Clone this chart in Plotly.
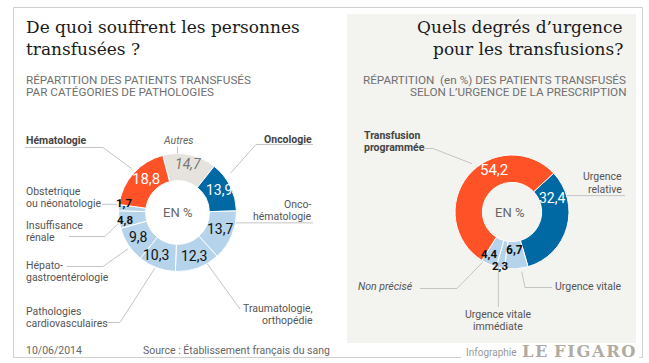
import math
import plotly.graph_objects as go

W, H = 649, 363

# ---------------- data ----------------
patho_labels = ["Autres", "Oncologie", "Onco-hématologie", "Traumatologie, orthopédie",
                "Pathologies cardiovasculaires", "Hépato-gastroentérologie",
                "Insuffisance rénale", "Obstetrique ou néonatologie", "Hématologie"]
patho_values = [14.7, 13.9, 13.7, 12.3, 10.3, 9.8, 4.8, 1.7, 18.8]

urg_labels = ["Urgence relative", "Urgence vitale", "Urgence vitale immédiate",
              "Non précisé", "Transfusion programmée"]
urg_values = [32.4, 6.7, 2.3, 4.4, 54.2]

# ---------------- style ----------------
ORANGE = "#ff5226"
DBLUE = "#0069a4"
LBLUE = "#b5d3ea"
BEIGE = "#e6e3de"
LINE = "#c4c4c4"
SANS = "Roboto, 'Open Sans', sans-serif"
SERIF = "'DejaVu Serif', serif"

patho_colors = [BEIGE, DBLUE, LBLUE, LBLUE, LBLUE, LBLUE, LBLUE, LBLUE, ORANGE]
urg_colors = [DBLUE, LBLUE, LBLUE, LBLUE, ORANGE]

L = dict(cx=177.5, cy=212.5, r=59, hole=0.54, rot=-14.5)
R = dict(cx=512.0, cy=212.0, r=57, hole=0.52, rot=47.0)


def P(x, y):
    return x / W, 1 - y / H


def dom(c):
    x0, y0 = P(c["cx"] - c["r"], c["cy"] + c["r"])
    x1, y1 = P(c["cx"] + c["r"], c["cy"] - c["r"])
    return dict(x=[x0, x1], y=[y0, y1])


def mids(values, rot):
    tot = sum(values)
    out, a = [], rot
    for v in values:
        span = 360 * v / tot
        out.append(a + span / 2)
        a += span
    return out


def polar(c, ang, rf):
    rad = math.radians(ang)
    return c["cx"] + rf * c["r"] * math.sin(rad), c["cy"] - rf * c["r"] * math.cos(rad)


fig = go.Figure()
for vals, labs, cols, c in [(patho_values, patho_labels, patho_colors, L),
                            (urg_values, urg_labels, urg_colors, R)]:
    fig.add_trace(go.Pie(values=vals, labels=labs, sort=False, direction="clockwise",
                         rotation=c["rot"], hole=c["hole"], domain=dom(c),
                         marker=dict(colors=cols, line=dict(color="white", width=1)),
                         textinfo="none", hoverinfo="label+value", showlegend=False))

ann = []
shapes = []


def text(x, y, s, size=11, color="#555", xa="left", fam=SANS, ya="middle"):
    px, py = P(x, y)
    ann.append(dict(x=px, y=py, xref="paper", yref="paper", text=s, showarrow=False,
                    xanchor=xa, yanchor=ya, font=dict(family=fam, size=size, color=color)))


def lines(x, y, rows, gap=12, **kw):
    for i, r_ in enumerate(rows):
        text(x, y + i * gap, r_, **kw)


def seg(pts, color=LINE, width=1):
    for (x0, y0), (x1, y1) in zip(pts[:-1], pts[1:]):
        a0, b0 = P(x0, y0)
        a1, b1 = P(x1, y1)
        shapes.append(dict(type="line", xref="paper", yref="paper", x0=a0, y0=b0, x1=a1, y1=b1,
                           line=dict(color=color, width=width)))


# panels & frame
rx0, ry0 = P(347, 343)
rx1, ry1 = P(636, 14)
shapes.append(dict(type="rect", xref="paper", yref="paper", x0=rx0, y0=ry0, x1=rx1, y1=ry1,
                   fillcolor="#f3f3f0", line=dict(width=0), layer="below"))
FR = "#d0d0d0"
seg([(13.5, 7.5), (642.5, 7.5)], FR)
seg([(13.5, 7.5), (13.5, 357.5)], FR)
seg([(642.5, 7.5), (642.5, 357.5)], FR)
seg([(13.5, 357.5), (461, 357.5)], FR)
seg([(639, 357.5), (642.5, 357.5)], FR)

# titles
TS = 17
text(24, 27, "De quoi souffrent les personnes", TS, "#1a1a1a", fam=SERIF)
text(24, 49, "transfusées ?", TS, "#1a1a1a", fam=SERIF)
text(24, 80, "RÉPARTITION DES PATIENTS TRANSFUSÉS", 11.7, "#707070")
text(24, 92, "PAR CATÉGORIES DE PATHOLOGIES", 11.7, "#707070")
text(625, 27, "Quels degrés d’urgence", TS, "#1a1a1a", xa="right", fam=SERIF)
text(625, 49, "pour les transfusions?", TS, "#1a1a1a", xa="right", fam=SERIF)
text(628, 80, "RÉPARTITION  (en %) DES PATIENTS TRANSFUSÉS", 11.7, "#707070", xa="right")
text(628, 92, "SELON L’URGENCE DE LA PRESCRIPTION", 11.7, "#707070", xa="right")

# footer
text(24, 350, "10/06/2014", 10.5, "#666")
text(141, 350, "Source : Établissement français du sang", 10.5, "#666")
text(464, 352, "Infographie", 10, "#999")
logo = "\u200a".join("LE FIGARO").replace("\u200a \u200a", "\u2009\u2009")
text(638, 351, f"<b>{logo}</b>", 16.3, "#b0aba3", xa="right", fam="'DejaVu Serif', serif")

# center labels
text(L["cx"], L["cy"], "EN %", 13, "#666", xa="center")
text(R["cx"] - 3, R["cy"], "EN %", 13, "#666", xa="center")

# value labels on slices: (angle offset, radius factor, size, color, style)
patho_val_style = [(0, 0.84, 14, "#777", "i"), (-2, 0.8, 14, "white", ""), (-2, 0.77, 14, "#111", ""),
                   (0, 0.79, 14, "#111", ""), (6, 0.81, 14, "#111", ""), (1, 0.79, 14, "#111", ""),
                   (-1, 0.9, 11.5, "#111", "b"), (5, 0.92, 11.5, "#111", "b"), (5, 0.79, 15, "white", "")]
urg_val_style = [(-35, 0.74, 14, "white", ""), (0, 0.67, 12, "#111", "b"), (1, 0.97, 11.5, "#111", "b"),
                 (5, 0.85, 11.5, "#111", "b"), (27, 0.8, 15, "white", "")]


def fmt(v):
    return f"{v:.1f}".replace(".", ",")


for vals, sty, c in [(patho_values, patho_val_style, L), (urg_values, urg_val_style, R)]:
    for v, m, (off, rf, sz, col, st) in zip(vals, mids(vals, c["rot"]), sty):
        x, y = polar(c, m + off, rf)
        s = fmt(v)
        if st:
            s = f"<{st}>{s}</{st}>"
        text(x, y, s, sz, col, xa="center")

# ---------------- outer labels and leaders ----------------
LAB = "#555"
LS = 10.5
pm = mids(patho_values, L["rot"])
um = mids(urg_values, R["rot"])

# Hématologie
lines(24, 140, ["<b>Hématologie</b>"], size=LS, color="#444")
seg([(25, 147.5), (103, 147.5), polar(L, pm[8] + 2, 1.08)])
# Autres
lines(178, 140, ["<i>Autres</i>"], size=LS, color="#666", xa="center")
seg([polar(L, pm[0] - 12, 1.12), polar(L, pm[0] - 12, 1.0)])
# Oncologie
lines(314, 139, ["<b>Oncologie</b>"], size=LS, color="#444", xa="right")
seg([(313, 144.5), (256, 144.5), polar(L, pm[1] - 10, 1.12)])
# Onco-hématologie
lines(314, 204, ["Onco-", "hématologie"], size=LS, color=LAB, xa="right")
ex, ey = polar(L, pm[2] - 13, 1.0)
seg([(ex, ey), (313, ey)])
# Obstetrique
lines(24, 191, ["Obstetrique", "ou néonatologie"], size=LS, color=LAB)
ex, ey = polar(L, pm[7] + 3, 1.03)
seg([(102, ey), (ex, ey)])
# Insuffisance rénale
lines(24, 225, ["Insuffisance", "rénale"], size=LS, color=LAB)
seg([(69, 236.5), (105, 236.5), polar(L, pm[6] - 4, 1.03)])
# Hépato
lines(24, 265, ["Hépato-", "gastroentérologie"], size=LS, color=LAB)
seg([(67, 266.5), (103, 266.5), polar(L, pm[5] - 3, 1.04)])
# Pathologies cardiovasculaires
lines(24, 311, ["Pathologies", "cardiovasculaires"], size=LS, color=LAB)
seg([(106, 322.5), (120, 322.5), polar(L, pm[4] + 1.5, 1.02)])
# Traumatologie
lines(315, 308, ["Traumatologie,", "orthopédie"], size=LS, color=LAB, xa="right")
seg([(240, 309), polar(L, pm[3] - 10, 1.0)])

# Right
lines(362, 135, ["<b>Transfusion</b>", "<b>programmée</b>"], size=LS, color="#444")
seg([(423, 148.5), (433, 148.5), polar(R, um[4] + 11, 1.1)])
lines(624, 177, ["Urgence", "relative"], size=LS, color=LAB, xa="right")
ex, ey = polar(R, um[0] - 32, 1.0)
seg([(ex, ey), (625, ey)])
lines(624, 286, ["Urgence vitale"], size=LS, color=LAB, xa="right")
seg([polar(R, um[1] - 5, 1.06), (525, 287.5), (552, 287.5)])
lines(498, 314, ["Urgence vitale", "immédiate"], size=LS, color=LAB, xa="center")
x0, y0 = polar(R, um[2] + 3, 0.93)
seg([(x0, y0), (x0, 307)])
lines(415, 286, ["<i>Non précisé</i>"], size=LS, color="#555", xa="right")
seg([(420, 288.5), (457, 288.5), polar(R, um[3] + 6.5, 1.03)])

fig.update_layout(width=W, height=H, margin=dict(l=0, r=0, t=0, b=0),
                  paper_bgcolor="white", plot_bgcolor="white",
                  annotations=ann, shapes=shapes, showlegend=False)
fig.write_html("out.html", config={"displayModeBar": False},
               post_script="document.body.style.margin='0';document.body.style.overflow='hidden';")
